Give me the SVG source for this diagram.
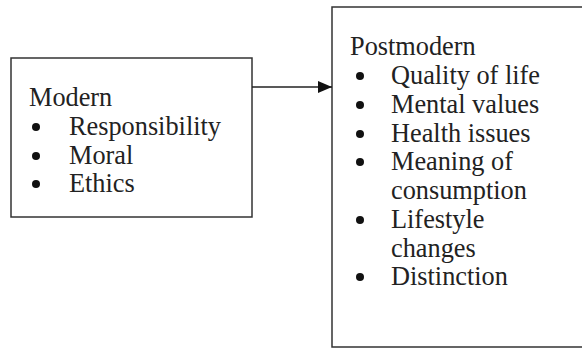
<svg xmlns="http://www.w3.org/2000/svg" width="582" height="348" viewBox="0 0 582 348">
<defs>
<style>
.box{fill:#fff;stroke:#333;stroke-width:1.5}
.t{font-family:"Liberation Serif","Times New Roman",serif;font-size:26.3px;fill:#222}
.b{fill:#111}
.c{stroke:#222;stroke-width:1.5;fill:none}
</style>
<marker id="ah" markerWidth="14" markerHeight="12" refX="14" refY="6" orient="auto" markerUnits="userSpaceOnUse">
<path d="M0,0 L14,6 L0,12 Z" fill="#111"/>
</marker>
</defs>
<g id="modern">
<rect class="box" x="11" y="58" width="241" height="159"/>
<text class="t" x="29" y="106">Modern</text>
<circle class="b" cx="36" cy="127" r="4"/><text class="t" x="69" y="135">Responsibility</text>
<circle class="b" cx="36" cy="156" r="4"/><text class="t" x="69" y="164">Moral</text>
<circle class="b" cx="36" cy="184" r="4"/><text class="t" x="69" y="192">Ethics</text>
</g>
<g id="postmodern">
<path class="box" d="M582,7 H332 V347 H582"/>
<text class="t" x="350" y="55">Postmodern</text>
<circle class="b" cx="360" cy="76" r="4"/><text class="t" x="391" y="84">Quality of life</text>
<circle class="b" cx="360" cy="105" r="4"/><text class="t" x="391" y="113">Mental values</text>
<circle class="b" cx="360" cy="134" r="4"/><text class="t" x="391" y="142">Health issues</text>
<circle class="b" cx="360" cy="162" r="4"/><text class="t" x="391" y="170">Meaning of</text>
<text class="t" x="391" y="199">consumption</text>
<circle class="b" cx="360" cy="220" r="4"/><text class="t" x="391" y="228">Lifestyle</text>
<text class="t" x="391" y="257">changes</text>
<circle class="b" cx="360" cy="277" r="4"/><text class="t" x="391" y="285">Distinction</text>
</g>
<g id="connectors">
<line class="c" x1="252" y1="87" x2="332" y2="87" marker-end="url(#ah)"/>
</g>
</svg>
